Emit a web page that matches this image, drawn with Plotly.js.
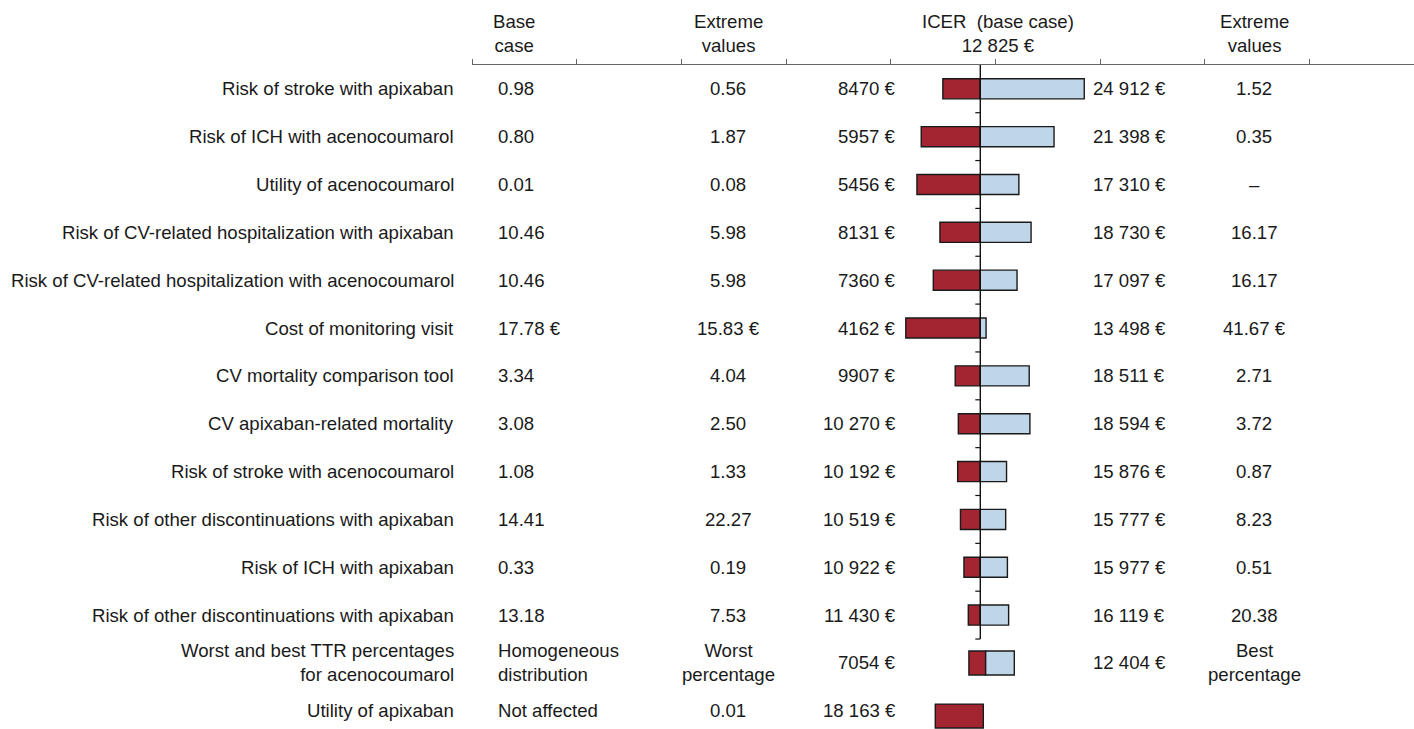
<!DOCTYPE html>
<html>
<head>
<meta charset="utf-8">
<script src="https://cdn.plot.ly/plotly-3.0.1.min.js"></script>
<style>html,body{margin:0;padding:0;background:#fff;}#chart{width:1414px;height:729px;}</style>
</head>
<body>
<div id="chart"></div>
<script>
// ---------- data ----------
const parameters = [
  "Risk of stroke with apixaban",
  "Risk of ICH with acenocoumarol",
  "Utility of acenocoumarol",
  "Risk of CV-related hospitalization with apixaban",
  "Risk of CV-related hospitalization with acenocoumarol",
  "Cost of monitoring visit",
  "CV mortality comparison tool",
  "CV apixaban-related mortality",
  "Risk of stroke with acenocoumarol",
  "Risk of other discontinuations with apixaban",
  "Risk of ICH with apixaban",
  "Risk of other discontinuations with apixaban",
  "Worst and best TTR percentages<br>for acenocoumarol",
  "Utility of apixaban"
];
const baseCase = ["0.98","0.80","0.01","10.46","10.46","17.78 €","3.34","3.08","1.08","14.41","0.33","13.18","Homogeneous<br>distribution","Not affected"];
const extremeLow = ["0.56","1.87","0.08","5.98","5.98","15.83 €","4.04","2.50","1.33","22.27","0.19","7.53","Worst<br>percentage","0.01"];
const icerLowText = ["8470 €","5957 €","5456 €","8131 €","7360 €","4162 €","9907 €","10 270 €","10 192 €","10 519 €","10 922 €","11 430 €","7054 €","18 163 €"];
const icerHighText = ["24 912 €","21 398 €","17 310 €","18 730 €","17 097 €","13 498 €","18 511 €","18 594 €","15 876 €","15 777 €","15 977 €","16 119 €","12 404 €",""];
const extremeHigh = ["1.52","0.35","–","16.17","16.17","41.67 €","2.71","3.72","0.87","8.23","0.51","20.38","Best<br>percentage",""];

const baseICER = 12825;
// bar extents (ICER, €) as drawn
const barLow  = [8470,5957,5456,8131,7360,4162,9907,10270,10192,10519,10922,11430,11500,7590];
const barMid  = [12825,12825,12825,12825,12825,12825,12825,12825,12825,12825,12825,12825,13450,13175];
const barHigh = [24912,21398,17310,18730,17097,13498,18511,18594,15876,15777,15977,16119,16780,null];

const headers = [
  {text:"Base<br>case", px:513.5},
  {text:"Extreme<br>values", px:728},
  {text:"ICER\u00A0\u00A0(base case)<br>12 825 €", px:998},
  {text:"Extreme<br>values", px:1254}
];

// ---------- layout helpers ----------
const PL = 472, PW = 942, TOP = 65, H = 729;
const PX_PER_EUR = 0.0086, CENTER_PX = 980.3;
const xr0 = baseICER - (CENTER_PX - PL) / PX_PER_EUR;
const xr1 = xr0 + PW / PX_PER_EUR;
const pp = px => (px - PL) / PW;
const yTop = -0.497, yBot = 13.38;
const idx = parameters.map((_, i) => i);
const FONT = {family: "Liberation Sans, Arial, sans-serif", size: 18.6, color: "#1a1a1a"};

const widths = idx.map(i => i >= 12 ? 0.5 : 0.42);
const offsets = idx.map(i => i === 13 ? -0.25 + 0.11 : -widths[i] / 2);
const RED = "#A32532", BLUE = "#BED6E8", EDGE = "#1a1a1a";

const traces = [
  {type:"bar", orientation:"h", y: idx, base: barLow,
   x: idx.map(i => barMid[i] - barLow[i]), width: widths, offset: offsets,
   marker:{color:RED, line:{color:EDGE, width:1.4}}, hoverinfo:"skip", showlegend:false},
  {type:"bar", orientation:"h", y: idx, base: barMid,
   x: idx.map(i => barHigh[i] == null ? null : barHigh[i] - barMid[i]), width: widths, offset: offsets,
   marker:{color:BLUE, line:{color:EDGE, width:1.4}}, hoverinfo:"skip", showlegend:false},
  {type:"scatter", mode:"markers", x:[0], y:[0], xaxis:"x2", marker:{opacity:0}, hoverinfo:"skip", showlegend:false}
];

const annotations = [];
function addCol(arr, px, xanchor, align) {
  arr.forEach((t, i) => {
    if (!t) return;
    annotations.push({xref:"paper", yref:"y", x:pp(px), y:i, text:t, xanchor:xanchor, align:align,
      yanchor:"middle", showarrow:false, font:FONT});
  });
}
addCol(parameters, 455.5, "right", "right");
addCol(baseCase, 495.5, "left", "left");
addCol(extremeLow, 728, "center", "center");
addCol(icerLowText, 897.5, "right", "right");
addCol(icerHighText, 1090.5, "left", "left");
addCol(extremeHigh, 1254, "center", "center");
headers.forEach(h => annotations.push({xref:"paper", yref:"paper", x:pp(h.px), y:1 + (TOP - 33) / (H - TOP),
  text:h.text, xanchor:"center", yanchor:"middle", align:"center", showarrow:false, font:FONT}));

const shapes = [{type:"line", xref:"x", yref:"y", x0:baseICER, x1:baseICER, y0:yTop, y1:11.5,
  line:{color:"#111", width:1.4}}];
for (let k = 0; k < 12; k++) {
  shapes.push({type:"line", xref:"x", yref:"y", x0:baseICER - 5 / PX_PER_EUR, x1:baseICER,
    y0:k + 0.5, y1:k + 0.5, line:{color:"#111", width:1.2}});
}

const layout = {
  width:1414, height:729,
  margin:{l:PL, r:1414 - PL - PW, t:TOP, b:0, pad:0},
  paper_bgcolor:"#fff", plot_bgcolor:"#fff",
  barmode:"overlay", bargap:0,
  xaxis:{range:[xr0, xr1], visible:false, fixedrange:true},
  xaxis2:{overlaying:"x", side:"top", range:[0, 9], tickvals:[0,1,2,3,4,5,6,7,8,9],
    ticks:"outside", ticklen:5, tickwidth:1, tickcolor:"#666", showline:true, linecolor:"#666",
    linewidth:1, showticklabels:false, showgrid:false, zeroline:false, fixedrange:true},
  yaxis:{range:[yBot, yTop], visible:false, fixedrange:true},
  annotations: annotations,
  shapes: shapes,
  font: FONT
};

Plotly.newPlot("chart", traces, layout, {displayModeBar:false, staticPlot:true});
</script>
</body>
</html>
